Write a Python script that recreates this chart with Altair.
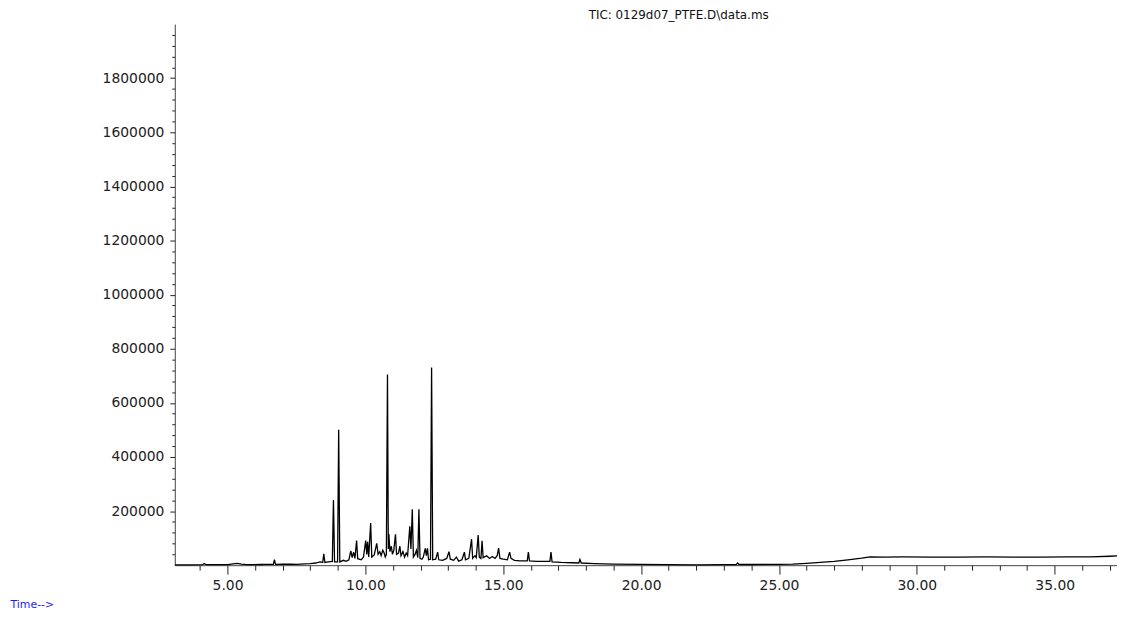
import altair as alt
import pandas as pd

# Retention time (min) and total ion current
time_min = [
    3.09, 3.80, 4.10, 4.15, 4.22, 5.00, 5.20, 5.35, 5.50, 5.70, 6.20, 6.40, 6.66, 6.70, 6.74,
    7.00, 7.30, 7.50, 7.80, 8.00, 8.20, 8.35, 8.45, 8.49, 8.53, 8.65, 8.80, 8.84, 8.88, 8.99,
    9.03, 9.07, 9.20, 9.30, 9.40, 9.47, 9.52, 9.57, 9.62, 9.68, 9.72, 9.85, 9.93, 10.01, 10.05,
    10.08, 10.12, 10.19, 10.23, 10.32, 10.41, 10.46, 10.52, 10.57, 10.63, 10.68, 10.72, 10.76,
    10.80, 10.83, 10.85, 10.89, 10.94, 10.98, 11.03, 11.09, 11.13, 11.20, 11.25, 11.29, 11.36,
    11.42, 11.48, 11.53, 11.61, 11.65, 11.70, 11.74, 11.80, 11.85, 11.90, 11.94, 11.98, 12.05,
    12.10, 12.17, 12.21, 12.25, 12.29, 12.36, 12.40, 12.44, 12.55, 12.62, 12.66, 12.80, 12.95,
    13.03, 13.08, 13.20, 13.30, 13.38, 13.50, 13.59, 13.63, 13.75, 13.85, 13.89, 13.97, 14.02,
    14.09, 14.13, 14.19, 14.23, 14.27, 14.40, 14.50, 14.60, 14.70, 14.78, 14.83, 14.88, 15.00,
    15.15, 15.23, 15.28, 15.40, 15.60, 15.87, 15.91, 15.95, 16.20, 16.50, 16.69, 16.73, 16.77,
    17.10, 17.50, 17.74, 17.78, 17.83, 18.30, 19.00, 20.00, 21.00, 22.00, 23.00, 23.45, 23.50,
    23.55, 24.00, 24.50, 25.00, 25.50, 26.00, 26.50, 27.00, 27.50, 28.00, 28.30, 28.80, 29.50,
    30.50, 31.50, 32.50, 33.50, 34.50, 35.50, 36.30, 37.00, 37.26,
]
tic = [
    1500, 1500, 1800, 6000, 2000, 2000, 5000, 6500, 4000, 2000, 2500, 3000, 3000, 20000, 3000,
    3500, 4000, 3000, 5000, 6000, 8000, 12000, 10000, 42000, 10000, 12000, 14000, 241000, 12000, 12000,
    501000, 12000, 18000, 14000, 20000, 53000, 28000, 48000, 25000, 91000, 24000, 20000, 30000, 91000, 40000,
    86000, 30000, 156000, 30000, 38000, 81000, 40000, 50000, 35000, 55000, 45000, 30000, 40000,
    705000, 60000, 115000, 50000, 70000, 40000, 55000, 114000, 40000, 45000, 70000, 35000, 50000,
    30000, 45000, 35000, 144000, 60000, 207000, 30000, 40000, 55000, 28000, 207000, 25000, 22000,
    30000, 62000, 35000, 62000, 20000, 22000, 731000, 20000, 22000, 48000, 20000, 18000, 25000,
    50000, 22000, 18000, 30000, 15000, 20000, 48000, 20000, 25000, 96000, 25000, 35000, 28000,
    111000, 30000, 25000, 90000, 28000, 35000, 25000, 32000, 25000, 35000, 63000, 25000, 22000,
    20000, 48000, 25000, 18000, 16000, 16000, 48000, 16000, 14000, 14000, 14000, 48000, 12000,
    10000, 9000, 8000, 21000, 8000, 6000, 4000, 3000, 2000, 1500, 2000, 2000, 8000,
    2500, 2500, 3000, 3000, 4000, 7000, 10000, 14000, 20000, 26000, 31000, 30000, 30500,
    30000, 30000, 30500, 30000, 30000, 30500, 31000, 33000, 34000,
]

x_ticks = list(range(4, 38))
y_ticks = list(range(40000, 2000000, 40000))

df = pd.DataFrame({"time": time_min, "tic": tic})

FONT = "DejaVu Sans"

chart = alt.Chart(df).mark_line(color="#000000", strokeWidth=1.3).encode(
    x=alt.X(
        "time:Q",
        scale=alt.Scale(domain=[3.086, 37.26], nice=False, zero=False),
        axis=alt.Axis(
            values=x_ticks,
            format=".2f",
            labelExpr="datum.value % 5 === 0 ? datum.label : ''",
            tickSize={"condition": {"test": "datum.value % 5 === 0", "value": 9}, "value": 5},
            tickColor="#222222",
            domainColor="#444444",
            labelFont=FONT,
            labelFontSize=14,
            labelColor="#222222",
            labelPadding=5,
            grid=False,
            title="Time-->",
            titleFont=FONT,
            titleFontSize=11,
            titleFontWeight="normal",
            titleColor="#1a1aff",
            titleAlign="left",
            titleAnchor="start",
            titleBaseline="middle",
            titleX=-166,
            titleY=40,
        ),
    ),
    y=alt.Y(
        "tic:Q",
        scale=alt.Scale(domain=[0, 2000000], nice=False),
        axis=alt.Axis(
            values=y_ticks,
            format="d",
            labelExpr="datum.value % 200000 === 0 ? datum.label : ''",
            tickSize={"condition": {"test": "datum.value % 200000 === 0", "value": 5}, "value": 3},
            tickColor="#222222",
            domainColor="#444444",
            labelFont=FONT,
            labelFontSize=14,
            labelColor="#222222",
            labelPadding=6,
            grid=False,
            title=None,
        ),
    ),
).properties(
    width=949,
    height=545,
    padding={"left": 168, "top": 14, "right": 0, "bottom": 50},
    autosize=alt.AutoSizeParams(type="none"),
    title=alt.TitleParams(
        text="TIC: 0129d07_PTFE.D\\data.ms",
        font=FONT,
        fontSize=12,
        fontWeight="normal",
        color="#111111",
        anchor="middle",
        dx=33,
        offset=2,
    ),
).configure_view(strokeWidth=0)

chart.save("out.html", embed_options={"renderer": "svg", "actions": False})
